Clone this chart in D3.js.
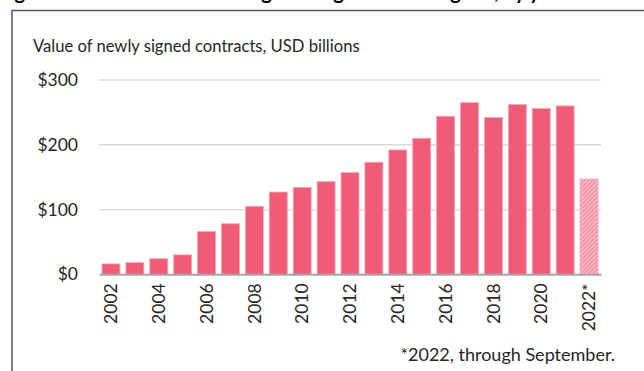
<!DOCTYPE html>
<html>
<head>
<meta charset="utf-8">
<script src="https://cdn.jsdelivr.net/npm/d3@7"></script>
<style>
  body { margin: 0; background: #fff; }
  svg { display: block; }
  text { font-family: Lato, "Open Sans", sans-serif; fill: #262626; }
</style>
</head>
<body>
<div id="chart"></div>
<script>
// data
const years = ["2002","2003","2004","2005","2006","2007","2008","2009","2010","2011",
               "2012","2013","2014","2015","2016","2017","2018","2019","2020","2021","2022"];
const contractValues = [16, 18, 24, 30, 66, 78, 105, 127, 134, 143,
                        157, 173, 192, 210, 244, 265, 242, 262, 256, 260, 147];
const partialYears = ["2022"];
const labelledYears = ["2002","2004","2006","2008","2010","2012","2014","2016","2018","2020","2022"];
const yTicks = [0, 100, 200, 300];
const subtitle = "Value of newly signed contracts, USD billions";
const footnote = "*2022, through September.";
const cutTitle = "Figure 3: Chinese overseas engineering contracts signed, by year";

const W = 644, H = 371;
const barColor = "#f05c77";

const svg = d3.select("#chart").append("svg")
    .attr("width", W)
    .attr("height", H);

// hatch for the partial year
const defs = svg.append("defs");
const pat = defs.append("pattern")
    .attr("id", "hatch")
    .attr("patternUnits", "userSpaceOnUse")
    .attr("width", 3).attr("height", 3)
    .attr("patternTransform", "rotate(45)");
pat.append("rect").attr("width", 3).attr("height", 3).attr("fill", "#fbc6cf");
pat.append("rect").attr("width", 1.6).attr("height", 3).attr("fill", "#f689a0");

// heading cut off by the frame, only descenders visible
svg.append("text")
    .attr("x", -2).attr("y", -1)
    .style("font-weight", "bold")
    .style("font-size", "20px")
    .style("fill", "#000")
    .text(cutTitle);

// frame
svg.append("path")
    .attr("d", `M12,${H + 2}V10.5H${W + 2}`)
    .attr("fill", "none")
    .attr("stroke", "#555")
    .attr("stroke-width", 1.5);

svg.append("text")
    .attr("x", 33).attr("y", 52)
    .style("font-size", "16.6px")
    .text(subtitle);

const x = d3.scaleBand()
    .domain(years)
    .range([99, 601])
    .paddingInner(0.25)
    .paddingOuter(0.125);

const y = d3.scaleLinear()
    .domain([0, 300])
    .range([274.3, 80]);

// gridlines
svg.append("g")
    .selectAll("line")
    .data(yTicks.filter(d => d > 0))
    .join("line")
    .attr("x1", 99).attr("x2", 601)
    .attr("y1", d => y(d)).attr("y2", d => y(d))
    .attr("stroke", "#dadada")
    .attr("stroke-width", 1.3);

const gy = svg.append("g")
    .attr("transform", "translate(99,0)")
    .call(d3.axisLeft(y).tickValues(yTicks).tickSize(0).tickPadding(21).tickFormat(d => "$" + d));
gy.select(".domain").remove();
gy.selectAll("text")
    .style("font-family", "Lato, 'Open Sans', sans-serif")
    .style("font-size", "17.5px")
    .attr("fill", "#262626");

// bars
svg.append("g")
    .selectAll("rect")
    .data(years.map((yr, i) => ({ year: yr, value: contractValues[i] })))
    .join("rect")
    .attr("x", d => x(d.year))
    .attr("width", x.bandwidth())
    .attr("y", d => y(d.value))
    .attr("height", d => y(0) - y(d.value))
    .attr("fill", d => partialYears.includes(d.year) ? "url(#hatch)" : barColor)
    .attr("stroke", "#f7a3b2")
    .attr("stroke-width", 0.8);

// x axis
const gx = svg.append("g")
    .attr("transform", `translate(0,${y(0)})`)
    .call(d3.axisBottom(x).tickValues(labelledYears).tickSize(0)
        .tickFormat(d => partialYears.includes(d) ? d + "*" : d));
gx.select(".domain")
    .attr("stroke", "#a6a6a6")
    .attr("stroke-width", 2);
gx.selectAll("text")
    .attr("transform", "rotate(-90)")
    .attr("x", -9)
    .attr("y", 0)
    .attr("dy", "0.35em")
    .style("text-anchor", "end")
    .style("font-family", "Lato, 'Open Sans', sans-serif")
    .style("font-size", "17.5px")
    .attr("fill", "#262626");

svg.append("text")
    .attr("x", 615).attr("y", 361)
    .attr("text-anchor", "end")
    .style("font-size", "18px")
    .text(footnote);
</script>
</body>
</html>
